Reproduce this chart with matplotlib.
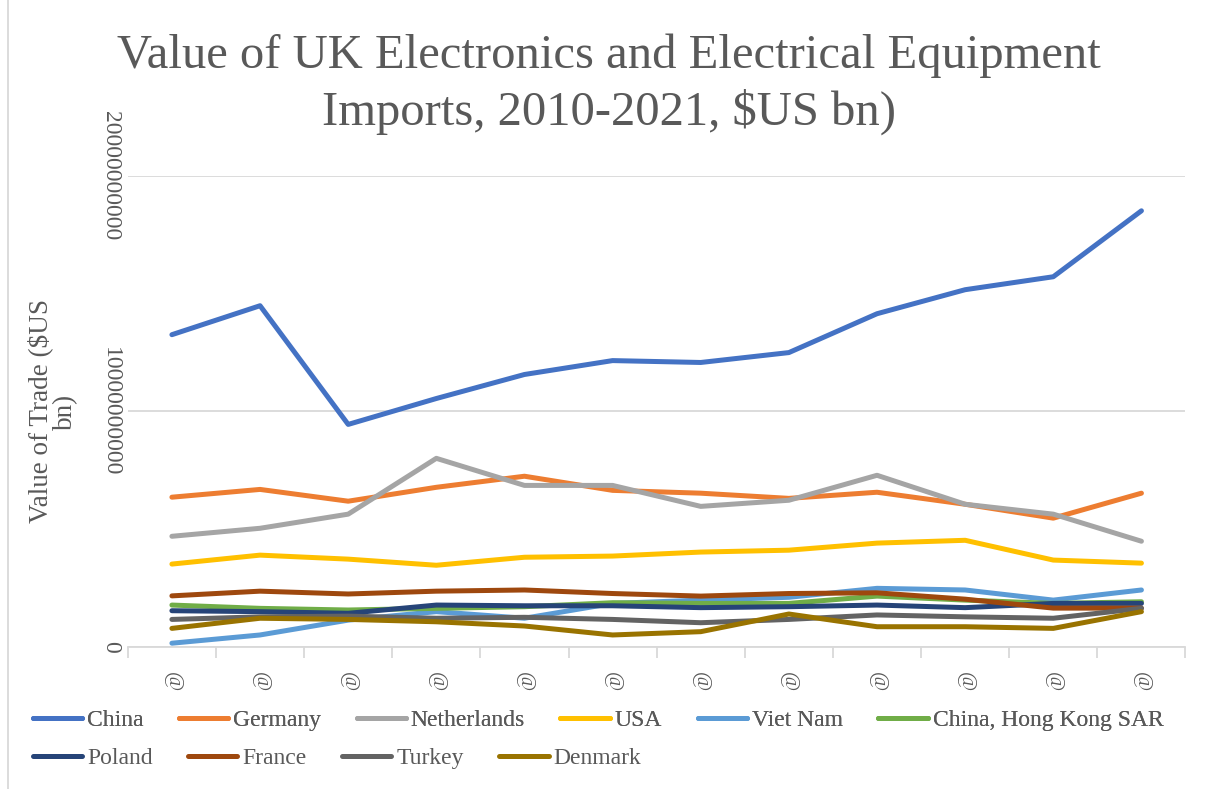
import numpy as np
import matplotlib.pyplot as plt
from matplotlib.lines import Line2D

plt.rcParams['font.family'] = ['Liberation Serif', 'DejaVu Serif']

years = ['2010', '2011', '2012', '2013', '2014', '2015', '2016', '2017', '2018', '2019', '2020', '2021']
tick_labels = ['@'] * 12

# values in $US bn
china = [13.26, 14.49, 9.45, 10.55, 11.57, 12.16, 12.08, 12.50, 14.15, 15.17, 15.72, 18.52]
germany = [6.36, 6.69, 6.19, 6.78, 7.25, 6.65, 6.53, 6.31, 6.57, 6.06, 5.47, 6.53]
netherlands = [4.70, 5.04, 5.64, 8.01, 6.86, 6.86, 5.97, 6.23, 7.29, 6.06, 5.64, 4.49]
usa = [3.52, 3.90, 3.73, 3.47, 3.81, 3.86, 4.03, 4.11, 4.41, 4.53, 3.69, 3.56]
viet_nam = [0.16, 0.51, 1.14, 1.50, 1.22, 1.85, 1.99, 2.11, 2.49, 2.42, 1.99, 2.42]
hong_kong = [1.78, 1.64, 1.57, 1.64, 1.71, 1.88, 1.85, 1.85, 2.16, 1.99, 1.85, 1.92]
poland = [1.54, 1.50, 1.43, 1.78, 1.75, 1.75, 1.67, 1.71, 1.78, 1.67, 1.85, 1.85]
france = [2.17, 2.37, 2.25, 2.37, 2.42, 2.27, 2.16, 2.27, 2.30, 2.03, 1.65, 1.65]
turkey = [1.17, 1.28, 1.31, 1.22, 1.26, 1.17, 1.03, 1.17, 1.36, 1.28, 1.22, 1.64]
denmark = [0.79, 1.22, 1.17, 1.07, 0.89, 0.51, 0.65, 1.40, 0.86, 0.86, 0.79, 1.50]

series = [
    ('China', china, '#4472C4'),
    ('Germany', germany, '#ED7D31'),
    ('Netherlands', netherlands, '#A5A5A5'),
    ('USA', usa, '#FFC000'),
    ('Viet Nam', viet_nam, '#5B9BD5'),
    ('China, Hong Kong SAR', hong_kong, '#70AD47'),
    ('Poland', poland, '#264478'),
    ('France', france, '#9E480E'),
    ('Turkey', turkey, '#636363'),
    ('Denmark', denmark, '#997300'),
]

txt = '#595959'
grid = '#d9d9d9'

fig = plt.figure(figsize=(12.06, 7.89), dpi=100)
ax = fig.add_axes([0.106, 0.18, 0.877, 0.597])

x = np.arange(len(years))
handles = []
for name, vals, col in series:
    h, = ax.plot(x, np.array(vals) * 1e9, color=col, lw=3.6, solid_capstyle='round',
                 solid_joinstyle='round', label=name)
    handles.append(h)

ax.set_xlim(-0.5, len(years) - 0.5)
ax.set_ylim(0, 2e10)
ax.set_yticks([0, 1e10, 2e10])
ax.set_yticklabels(['0', '10000000000', '20000000000'], rotation=-90, va='center',
                   fontsize=17, color=txt)
ax.tick_params(axis='y', length=0, pad=5)
ax.yaxis.grid(True, color=grid, lw=1.3)
ax.set_axisbelow(True)

ax.set_xticks(x)
ax.set_xticklabels(tick_labels, rotation=-90, fontsize=15, color=txt)
ax.set_xticks(np.arange(-0.5, len(years)), minor=True)
ax.tick_params(axis='x', which='major', length=0, pad=18)
ax.tick_params(axis='x', which='minor', length=8, color=grid, width=1.3)

for s in ['top', 'right', 'left']:
    ax.spines[s].set_visible(False)
ax.spines['bottom'].set_color(grid)
ax.spines['bottom'].set_linewidth(1.3)

ax.set_ylabel('Value of Trade ($US\nbn)', fontsize=19.5, color=txt, linespacing=1.0)
ax.yaxis.set_label_coords(-0.047, 0.5)

fig.text(0.505, 1 - 68 / 789, 'Value of UK Electronics and Electrical Equipment',
         ha='center', va='baseline', fontsize=35, color=txt)
fig.text(0.505, 1 - 125 / 789, 'Imports, 2010-2021, $US bn)',
         ha='center', va='baseline', fontsize=35, color=txt)

kw = dict(frameon=False, fontsize=17, handlelength=2.1, handletextpad=0.2,
          columnspacing=1.5, labelcolor=txt, borderaxespad=0, borderpad=0)
leg1 = fig.legend(handles=handles[:6], loc='center left', bbox_to_anchor=(0.027, 0.087),
                  ncol=6, **kw)
fig.add_artist(leg1)
fig.legend(handles=handles[6:], loc='center left', bbox_to_anchor=(0.027, 0.039),
           ncol=4, **kw)

fig.add_artist(Line2D([0.007, 0.007], [0, 1], transform=fig.transFigure, color=grid, lw=1.3))

fig.savefig('out.png', dpi=100)
